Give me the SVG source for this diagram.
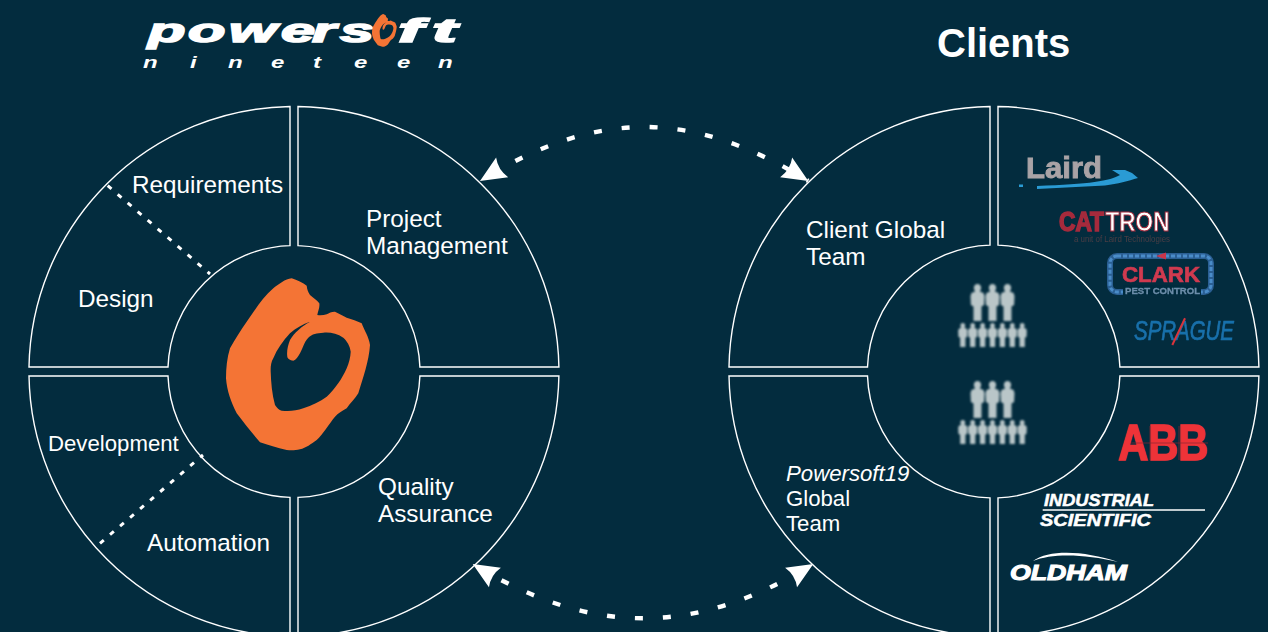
<svg xmlns="http://www.w3.org/2000/svg" width="1268" height="632" viewBox="0 0 1268 632">
<style>
.seg{fill:none;stroke:#fff;stroke-width:1.4}
.lbl{font-family:"Liberation Sans",Arial,sans-serif;font-size:24.3px;fill:#fff}
.sm{font-size:22.2px}
.div{fill:none;stroke:#fff;stroke-width:3;stroke-dasharray:5 8.2}
.arc{fill:none;stroke:#fff;stroke-width:4.4;stroke-dasharray:8 20}
.lg{font-family:"Liberation Sans",Arial,sans-serif;font-weight:bold}
</style>
<defs>
<marker id="head" markerUnits="userSpaceOnUse" viewBox="-30 -15 32 30" markerWidth="32" markerHeight="30" refX="0" refY="0" orient="auto-start-reverse">
<path d="M0,0 L-26,-11.5 Q-21,0 -26,11.5 Z" fill="#fff"/>
</marker>
<path id="mark" fill-rule="evenodd" fill="#f47435" d="M291.7,278.3 C297,280 303,283 306.7,285.7 C307,289 308,292 310,295 C313,298 317,300 319.3,303.3 C320,307 318,311 317.3,315 C321,315.5 324,315 326.7,314.3 C329,313 332,311.5 335,311.7 C339,313.5 343,316 346.7,317.7 C352,319.5 357,321 361.7,323.3 C364,330 369,337 370,345 C369,361 363,378 358.3,393.3 C355,399 350,403 346.7,408.3 C342,411 338,413.5 335,416.7 C329,424 323,434 316.7,440 C311,444 306,448 300,449.3 C295,450.5 291,450.5 286.7,450 C277,448 268,445 260,442.3 C252,433 244,423 236.7,413.3 C231,402 227,391 226,378.3 C226,368 227,358 230,348.3 C235,339 241,330 246.7,321.7 C255,310 263,297 273.3,288.3 C279,284 285,279 291.7,278.3 Z M310,321.7 C303,324 296,328 290,333.3 C283,341 277,349 273.3,358.3 C271,362 270.5,367 270.7,371.7 C271,382 272,394 275,405 C277,408 279,410 281.7,410.7 C289,411.5 296,411 303.3,408.3 C312,405 320,402 326.7,396.7 C335,389 342,379 346.7,368.3 C349,363 350.5,357 350.7,351.7 C350,346 347,341 343.3,337.7 C337,333.5 330,332 323.3,332.7 C317,333 312,334 308.3,337.7 C304,342 303,348 300,353.3 C298,357 296,360 293.3,360.7 C290,360.5 287.5,358.5 287.3,356.7 C286.5,351 288,345 290,340 C294,333 302,326 310,321.7 Z"/>
<path id="person" d="M0,0 C2.4,0 3.6,1.8 3.6,3.8 C3.6,5.6 2.8,6.6 2.4,7.4 L6,9 L7,12 L6.6,21 L4,22.5 V37 H-4 V22.5 L-6.6,21 L-7,12 L-6,9 L-2.4,7.4 C-2.8,6.6 -3.6,5.6 -3.6,3.8 C-3.6,1.8 -2.4,0 0,0 Z" fill="#b9c6c8"/>
<g id="people">
<use href="#person" x="-15" y="0"/><use href="#person" x="0" y="0"/><use href="#person" x="15" y="0"/>
<g transform="translate(0,39) scale(.66,.65)">
<use href="#person" x="-45" y="0"/><use href="#person" x="-30" y="0"/><use href="#person" x="-15" y="0"/><use href="#person" x="0" y="0"/><use href="#person" x="15" y="0"/><use href="#person" x="30" y="0"/><use href="#person" x="45" y="0"/>
</g>
</g>
<filter id="soft" x="-10%" y="-10%" width="120%" height="120%"><feGaussianBlur stdDeviation="0.8"/></filter>
<filter id="soft2" x="-5%" y="-5%" width="110%" height="110%"><feGaussianBlur stdDeviation="0.4"/></filter>
</defs>
<rect width="1268" height="632" fill="#032c3e"/>

<g id="logo-powersoft">
<g class="lg" fill="#fff" font-style="italic" stroke="#fff" stroke-width="1.6">
<text transform="scale(1.8,1)" y="41.7" font-size="34" x="82.2 104.4 127.2 156.1 173.3 188.9">powers</text>
<text transform="scale(2.2,1)" y="41.7" font-size="34" x="180.9 196.4">ft</text>
</g>
<use href="#mark" transform="translate(333.1,-38.8) scale(.172,.19)"/>
<text class="lg" transform="scale(1.5,1)" font-style="italic" font-size="16" fill="#fff" y="67.7" x="95.3 126.7 152 180.7 208.7 236 264.7 292">nineteen</text>
</g>

<g id="title-clients"><text class="lg" x="937" y="57" font-size="40" fill="#fff">Clients</text></g>

<g id="center-left"><use href="#mark"/></g>

<g id="requirements-design">
<path class="seg" d="M290,106.5 A265,265 0 0 0 29,367 H168 A126,126 0 0 1 290,245.6 Z"/>
<text class="lbl" x="132" y="193">Requirements</text>
<text class="lbl" x="78" y="307">Design</text>
</g>
<g id="project-management">
<path class="seg" d="M298,106.5 A265,265 0 0 1 558.9,367 H419.9 A126,126 0 0 0 298,245.6 Z"/>
<text class="lbl" x="366" y="227">Project</text>
<text class="lbl" x="366" y="254">Management</text>
</g>
<g id="development-automation">
<path class="seg" d="M290,636.5 A265,265 0 0 1 29,376 H168 A126,126 0 0 0 290,497.4 Z"/>
<text class="lbl sm" x="48" y="451">Development</text>
<text class="lbl" x="147" y="551">Automation</text>
</g>
<g id="quality-assurance">
<path class="seg" d="M298,636.5 A265,265 0 0 0 558.9,376 H419.9 A126,126 0 0 1 298,497.4 Z"/>
<text class="lbl" x="378" y="495">Quality</text>
<text class="lbl" x="378" y="522">Assurance</text>
</g>

<g id="client-global-team">
<path class="seg" d="M990,106.5 A265,265 0 0 0 729,367 H867.5 A126.5,126.5 0 0 1 990,245.1 Z"/>
<text class="lbl" x="806" y="238">Client Global</text>
<text class="lbl" x="806" y="265">Team</text>
</g>
<g id="client-logos">
<path class="seg" d="M998,106.5 A265,265 0 0 1 1258.9,367 H1119.9 A126.5,126.5 0 0 0 998,245.1 Z"/>
<g filter="url(#soft2)">
<text class="lg" x="1026" y="178" font-size="30" fill="#a9a3a6" stroke="#a9a3a6" stroke-width=".9" textLength="76" lengthAdjust="spacingAndGlyphs">Laird</text>
<path d="M1037,189 L1105,185.5 C1118,184 1128,181 1138,178 L1132,173 L1125,170 L1112,170 L1120,175 C1110,181 1090,184 1037,186 Z" fill="#2a9bd4"/>
<rect x="1019" y="184.5" width="4" height="2.5" fill="#2a9bd4"/>
</g>
<g filter="url(#soft2)">
<text class="lg" x="1059" y="231" font-size="27" fill="#a52a3c" stroke="#a52a3c" stroke-width="1.6" textLength="45" lengthAdjust="spacingAndGlyphs">CAT</text>
<text class="lg" x="1105.5" y="231" font-size="27" fill="#fff" stroke="#a52a3c" stroke-width="1" textLength="64" lengthAdjust="spacingAndGlyphs">TRON</text>
<text x="1074" y="242" font-family="'Liberation Sans',Arial,sans-serif" font-size="8.6" fill="#4a3d44" textLength="96" lengthAdjust="spacingAndGlyphs">a unit of Laird Technologies</text>
</g>
<g filter="url(#soft2)">
<rect x="1110" y="256" width="101" height="36" rx="7" fill="none" stroke="#2a5f93" stroke-width="6"/>
<rect x="1110" y="256" width="101" height="36" rx="7" fill="none" stroke="#4a8cc8" stroke-width="3" stroke-dasharray="4 2"/>
<path d="M1156,256 L1166,252.5 V259.5 Z" fill="#c8344a"/>
<text class="lg" x="1122" y="282" font-size="22" fill="#d03a50" stroke="#d03a50" stroke-width=".7" textLength="78" lengthAdjust="spacingAndGlyphs">CLARK</text>
<rect x="1123" y="285" width="78" height="10" fill="#032c3e"/>
<text class="lg" x="1125" y="294" font-size="9.5" fill="#6d8eaa" stroke="#6d8eaa" stroke-width=".3" textLength="75" lengthAdjust="spacingAndGlyphs">PEST CONTROL</text>
</g>
<g filter="url(#soft2)">
<text x="1134" y="340" font-family="'Liberation Sans',Arial,sans-serif" font-style="italic" font-size="28" fill="#1a70ab" stroke="#1a70ab" stroke-width=".7" textLength="100" lengthAdjust="spacingAndGlyphs">SPRAGUE</text>
<path d="M1185,318.3 L1172.3,345" stroke="#d8343c" stroke-width="2" fill="none"/>
</g>
</g>
<g id="powersoft19-global-team">
<path class="seg" d="M990,636.5 A265,265 0 0 1 729,376 H867.5 A126.5,126.5 0 0 0 990,497.9 Z"/>
<text class="lbl sm" x="786" y="481" font-style="italic">Powersoft19</text>
<text class="lbl sm" x="786" y="506">Global</text>
<text class="lbl sm" x="786" y="531">Team</text>
</g>
<g id="powersoft19-logos">
<path class="seg" d="M998,636.5 A265,265 0 0 0 1258.9,376 H1119.9 A126.5,126.5 0 0 1 998,497.9 Z"/>
<text class="lg" x="1118" y="460" font-size="50" fill="#ee3338" stroke="#ee3338" stroke-width="1.6" textLength="90" lengthAdjust="spacingAndGlyphs">ABB</text>
<path d="M1131,443 H1208 M1150,426 V460 M1179,426 V460" stroke="#8a2630" stroke-width=".7" fill="none"/>
<text class="lg" x="1044" y="506" font-size="16.5" font-style="italic" fill="#fff" stroke="#fff" stroke-width=".5" textLength="110" lengthAdjust="spacingAndGlyphs">INDUSTRIAL</text>
<line x1="1042.7" y1="510" x2="1205" y2="510" stroke="#fff" stroke-width="1.4"/>
<text class="lg" x="1040" y="526" font-size="16.5" font-style="italic" fill="#fff" stroke="#fff" stroke-width=".5" textLength="111" lengthAdjust="spacingAndGlyphs">SCIENTIFIC</text>
<text class="lg" x="1010" y="580" font-size="22" font-style="italic" fill="#fff" stroke="#fff" stroke-width="1.1" textLength="117" lengthAdjust="spacingAndGlyphs">OLDHAM</text>
<path d="M1033,561 C1050,549 1085,551 1118,562 C1085,554 1052,553 1033,561 Z" fill="#fff"/>
</g>

<g id="team-top" filter="url(#soft)"><use href="#people" x="992.5" y="284"/></g>
<g id="team-bottom" filter="url(#soft)"><use href="#people" x="992.5" y="381"/></g>

<g id="connectors">
<path class="div" d="M107.7,185.7 L210,274"/>
<path class="div" d="M100,543.3 L203,455"/>
<path class="arc" style="stroke-dashoffset:15.5" marker-start="url(#head)" marker-end="url(#head)" d="M480,181 C597,109 691,109 808.3,181"/>
<path class="arc" style="stroke-dashoffset:23.1" marker-start="url(#head)" marker-end="url(#head)" d="M472.7,564 C592,636.4 694,636.4 813.3,564"/>
</g>
</svg>
